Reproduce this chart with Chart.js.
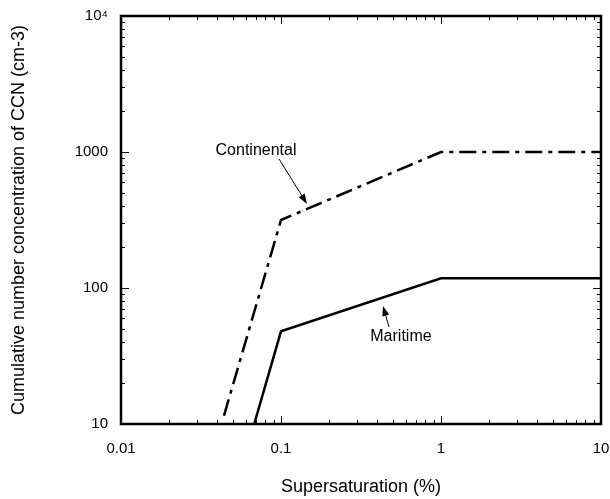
<!DOCTYPE html>
<html>
<head>
<meta charset="utf-8">
<script src="https://cdn.jsdelivr.net/npm/chart.js@4/dist/chart.umd.min.js"></script>
<style>
  html, body { margin: 0; padding: 0; background: #fff; }
  #wrap { width: 610px; height: 499px; }
</style>
</head>
<body>
<div id="wrap"><canvas id="c" width="610" height="499"></canvas></div>
<script>
// ---- data ----
const continentalX = [0.044, 0.1, 1, 10];
const continentalY = [11.5, 316, 1000, 1000];
const maritimeX = [0.068, 0.1, 1, 10];
const maritimeY = [10, 48, 118, 118];
const xTickValues = [0.01, 0.1, 1, 10];
const xTickLabels = ['0.01', '0.1', '1', '10'];
const yTickValues = [10, 100, 1000, 10000];
const yTickLabels = ['10', '100', '1000', '10\u2074'];
const seriesNames = ['Continental', 'Maritime'];
const xTitle = 'Supersaturation (%)';
const yTitle = 'Cumulative number concentration of CCN (cm-3)';

// annotation anchors in data units: label, arrow tail, arrow tip
const annotations = [
  { text: 'Continental', label: [0.0698, 1016], tail: [0.0972, 889], tip: [0.1454, 415] },
  { text: 'Maritime', label: [0.562, 43.6], tail: [0.473, 51.7], tip: [0.434, 73.8] }
];

const FONT = "'Liberation Sans', Arial, Helvetica, sans-serif";
const toPts = (xs, ys) => xs.map((x, i) => ({ x: x, y: ys[i] }));

const framePlugin = {
  id: 'frame',
  afterDatasetsDraw(chart) {
    const { ctx, chartArea: a, scales: { x, y } } = chart;
    ctx.save();
    ctx.strokeStyle = '#000';
    ctx.lineWidth = 1;
    const mults = [1, 2, 3, 4, 5, 6, 7, 8, 9];
    const decades = (min, max) => {
      const out = [];
      for (let e = Math.round(Math.log10(min)); Math.pow(10, e) <= max * 1.0001; e++) out.push(Math.pow(10, e));
      return out;
    };
    decades(x.min, x.max).forEach(d => {
      mults.forEach(m => {
        const v = d * m;
        if (v > x.max * 1.0001) return;
        const px = Math.round(x.getPixelForValue(v)) + 0.5;
        const len = m === 1 ? 8 : 4;
        ctx.beginPath();
        ctx.moveTo(px, a.bottom); ctx.lineTo(px, a.bottom - len);
        ctx.moveTo(px, a.top); ctx.lineTo(px, a.top + len);
        ctx.stroke();
      });
    });
    decades(y.min, y.max).forEach(d => {
      mults.forEach(m => {
        const v = d * m;
        if (v > y.max * 1.0001) return;
        const py = Math.round(y.getPixelForValue(v)) + 0.5;
        const len = m === 1 ? 8 : 4;
        ctx.beginPath();
        ctx.moveTo(a.left, py); ctx.lineTo(a.left + len, py);
        ctx.moveTo(a.right, py); ctx.lineTo(a.right - len, py);
        ctx.stroke();
      });
    });
    ctx.lineWidth = 2.5;
    ctx.strokeRect(a.left, a.top, a.right - a.left, a.bottom - a.top);

    ctx.fillStyle = '#000';
    ctx.font = '16px ' + FONT;
    ctx.textAlign = 'center';
    ctx.textBaseline = 'middle';
    annotations.forEach(an => {
      const lx = x.getPixelForValue(an.label[0]), ly = y.getPixelForValue(an.label[1]);
      ctx.fillText(an.text, lx, ly);
      const tx = x.getPixelForValue(an.tail[0]), ty = y.getPixelForValue(an.tail[1]);
      const hx = x.getPixelForValue(an.tip[0]), hy = y.getPixelForValue(an.tip[1]);
      const ang = Math.atan2(hy - ty, hx - tx);
      const L = 10, W = 3.5;
      const bx = hx - L * Math.cos(ang), by = hy - L * Math.sin(ang);
      ctx.lineWidth = 1;
      ctx.beginPath();
      ctx.moveTo(tx, ty); ctx.lineTo(bx, by);
      ctx.stroke();
      ctx.beginPath();
      ctx.moveTo(hx, hy);
      ctx.lineTo(bx + W * Math.sin(ang), by - W * Math.cos(ang));
      ctx.lineTo(bx - W * Math.sin(ang), by + W * Math.cos(ang));
      ctx.closePath();
      ctx.fill();
    });
    ctx.restore();
  }
};

new Chart(document.getElementById('c'), {
  type: 'scatter',
  data: {
    datasets: [
      {
        label: seriesNames[0],
        data: toPts(continentalX, continentalY),
        showLine: true,
        borderColor: '#000',
        backgroundColor: '#000',
        borderWidth: 2.5,
        borderDash: [17, 6, 4, 6],
        pointRadius: 0,
        tension: 0
      },
      {
        label: seriesNames[1],
        data: toPts(maritimeX, maritimeY),
        showLine: true,
        borderColor: '#000',
        backgroundColor: '#000',
        borderWidth: 2.5,
        pointRadius: 0,
        tension: 0
      }
    ]
  },
  options: {
    responsive: false,
    animation: false,
    devicePixelRatio: 1,
    layout: { padding: { top: 16, right: 9, left: 0, bottom: 0 } },
    plugins: { legend: { display: false }, tooltip: { enabled: false } },
    scales: {
      x: {
        type: 'logarithmic',
        min: 0.01, max: 10,
        grid: { display: false, drawTicks: false },
        border: { display: false },
        afterFit: s => { s.height = 75; s.paddingLeft = 0; s.paddingRight = 0; },
        afterBuildTicks: s => { s.ticks = xTickValues.map(v => ({ value: v, major: true })); },
        ticks: {
          autoSkip: false, maxRotation: 0, padding: 16, color: '#000',
          font: { family: FONT, size: 15 },
          callback: v => { const i = xTickValues.findIndex(t => Math.abs(t - v) / t < 1e-6); return i >= 0 ? xTickLabels[i] : ''; }
        },
        title: { display: true, text: xTitle, color: '#000', font: { family: FONT, size: 18 }, padding: { bottom: 1, top: 0 } }
      },
      y: {
        type: 'logarithmic',
        min: 10, max: 10000,
        grid: { display: false, drawTicks: false },
        border: { display: false },
        afterFit: s => { s.width = 121; s.paddingTop = 0; s.paddingBottom = 0; },
        afterBuildTicks: s => { s.ticks = yTickValues.map(v => ({ value: v, major: true })); },
        ticks: {
          autoSkip: false, padding: 13, color: '#000',
          font: { family: FONT, size: 15 },
          callback: v => { const i = yTickValues.findIndex(t => Math.abs(t - v) / t < 1e-6); return i >= 0 ? yTickLabels[i] : ''; }
        },
        title: { display: true, text: yTitle, color: '#000', font: { family: FONT, size: 18 }, padding: { top: 8, bottom: 0 } }
      }
    }
  },
  plugins: [framePlugin]
});
</script>
</body>
</html>
